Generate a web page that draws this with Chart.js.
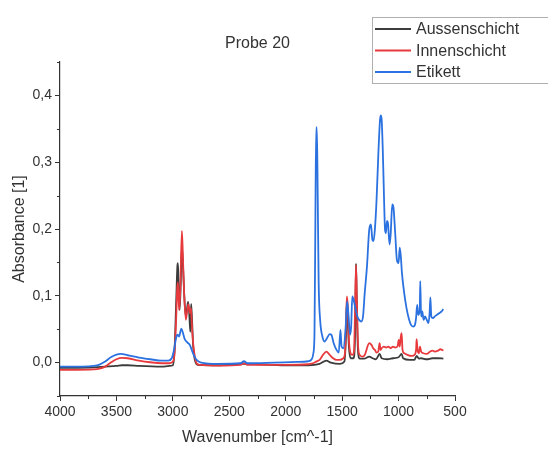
<!DOCTYPE html>
<html>
<head>
<meta charset="utf-8">
<script src="https://cdn.jsdelivr.net/npm/chart.js@4.4.0/dist/chart.umd.min.js"></script>
<style>
  html, body { margin: 0; padding: 0; background: #fff; }
</style>
</head>
<body>
<canvas id="spectrum" width="548" height="450"></canvas>
<script>
const titleText = 'Probe 20'
const xTicks = [4000, 3500, 3000, 2500, 2000, 1500, 1000, 500]
const xMinorTicks = [3750, 3250, 2750, 2250, 1750, 1250, 750]
const yTicks = [0, 0.1, 0.2, 0.3, 0.4]
const yMinorTicks = [-0.05, 0.05, 0.15, 0.25, 0.35, 0.45]

// Aussenschicht
const aussenWn = [4000, 3700, 3600, 3500, 3450, 3400, 3300, 3100, 3030, 3000, 2985, 2970, 2960, 2955, 2948, 2940, 2930, 2920, 2910, 2900, 2885, 2872, 2865, 2855, 2845, 2838, 2830, 2820, 2805, 2780, 2600, 2370, 2000, 1800, 1700, 1640, 1600, 1520, 1480, 1465, 1458, 1450, 1440, 1425, 1400, 1385, 1377, 1370, 1360, 1345, 1300, 1260, 1230, 1200, 1168, 1150, 1100, 1050, 1000, 973, 960, 900, 860, 840, 820, 800, 750, 700, 650, 603]
const aussenAbs = [-0.008, -0.007, -0.006, -0.005, -0.004, -0.004, -0.005, -0.006, -0.005, -0.004, 0.019, 0.094, 0.144, 0.149, 0.114, 0.079, 0.119, 0.174, 0.144, 0.104, 0.069, 0.084, 0.091, 0.074, 0.046, 0.088, 0.064, 0.024, 0.004, -0.0035, -0.004, -0.002, -0.004, -0.004, -0.002, 0.003, 0.0, -0.002, 0.0015, 0.044, 0.089, 0.064, 0.024, 0.0065, 0.0065, 0.044, 0.148, 0.09, 0.019, 0.006, 0.006, 0.009, 0.0065, 0.005, 0.013, 0.0065, 0.005, 0.0065, 0.008, 0.013, 0.0065, 0.004, 0.004, 0.010, 0.006, 0.0065, 0.005, 0.0065, 0.0065, 0.006]

// Innenschicht
const innenWn = [4000, 3700, 3650, 3600, 3550, 3500, 3450, 3400, 3300, 3200, 3100, 3030, 3000, 2985, 2970, 2962, 2955, 2945, 2935, 2920, 2912, 2900, 2885, 2872, 2862, 2850, 2840, 2835, 2825, 2810, 2790, 2760, 2600, 2400, 2370, 2340, 2000, 1800, 1760, 1730, 1700, 1670, 1640, 1610, 1580, 1550, 1520, 1490, 1475, 1465, 1458, 1450, 1440, 1425, 1410, 1395, 1385, 1377, 1370, 1360, 1345, 1320, 1300, 1260, 1240, 1225, 1210, 1195, 1180, 1168, 1160, 1150, 1130, 1110, 1090, 1070, 1050, 1030, 1010, 998, 990, 980, 973, 965, 950, 920, 890, 860, 845, 840, 832, 820, 810, 800, 780, 750, 720, 700, 680, 650, 630, 603]
const innenAbs = [-0.011, -0.010, -0.009, -0.006, 0.0, 0.005, 0.007, 0.0065, 0.003, 0.0005, -0.001, -0.001, 0.0015, 0.014, 0.069, 0.109, 0.12, 0.079, 0.104, 0.197, 0.164, 0.104, 0.064, 0.079, 0.087, 0.074, 0.0815, 0.069, 0.039, 0.014, -0.001, -0.0035, -0.0045, -0.0035, -0.001, -0.0035, -0.0035, -0.0025, -0.001, 0.0015, 0.004, 0.0115, 0.0165, 0.0115, 0.0065, 0.004, 0.004, 0.0065, 0.014, 0.064, 0.099, 0.084, 0.034, 0.014, 0.0115, 0.0165, 0.084, 0.146, 0.094, 0.029, 0.0115, 0.009, 0.0115, 0.029, 0.0265, 0.0215, 0.019, 0.015, 0.0165, 0.029, 0.019, 0.0215, 0.024, 0.0225, 0.024, 0.0215, 0.024, 0.0225, 0.024, 0.034, 0.024, 0.039, 0.044, 0.019, 0.014, 0.0115, 0.010, 0.0115, 0.019, 0.035, 0.019, 0.014, 0.024, 0.0165, 0.014, 0.013, 0.0165, 0.018, 0.0165, 0.018, 0.020, 0.018]

// Etikett
const etikettWn = [4000, 3800, 3700, 3650, 3600, 3550, 3500, 3460, 3400, 3300, 3200, 3100, 3040, 3010, 2990, 2975, 2960, 2945, 2925, 2910, 2895, 2870, 2850, 2835, 2815, 2790, 2750, 2600, 2400, 2370, 2340, 2100, 1900, 1800, 1770, 1755, 1745, 1738, 1730, 1724, 1716, 1708, 1695, 1675, 1655, 1635, 1610, 1595, 1575, 1550, 1530, 1515, 1505, 1490, 1470, 1456, 1445, 1430, 1420, 1410, 1395, 1380, 1365, 1350, 1330, 1315, 1300, 1280, 1260, 1245, 1232, 1222, 1210, 1195, 1180, 1165, 1158, 1150, 1140, 1130, 1120, 1112, 1103, 1094, 1080, 1070, 1056, 1045, 1030, 1015, 1000, 990, 980, 970, 950, 930, 910, 890, 870, 855, 845, 835, 825, 812, 808, 800, 790, 778, 765, 750, 735, 725, 718, 710, 695, 680, 660, 640, 620, 603]
const etikettAbs = [-0.006, -0.006, -0.005, -0.003, 0.0015, 0.008, 0.012, 0.013, 0.011, 0.0075, 0.005, 0.003, 0.003, 0.0065, 0.019, 0.034, 0.042, 0.039, 0.051, 0.044, 0.035, 0.030, 0.0265, 0.020, 0.0115, 0.004, 0.0, -0.002, -0.001, 0.002, -0.001, 0.0, 0.001, 0.002, 0.005, 0.014, 0.044, 0.19, 0.352, 0.352, 0.244, 0.119, 0.064, 0.039, 0.0315, 0.0365, 0.0425, 0.0415, 0.029, 0.019, 0.015, 0.049, 0.024, 0.0215, 0.049, 0.0915, 0.074, 0.0415, 0.054, 0.099, 0.0915, 0.079, 0.069, 0.064, 0.0615, 0.069, 0.104, 0.144, 0.199, 0.207, 0.184, 0.182, 0.199, 0.244, 0.309, 0.362, 0.370, 0.364, 0.319, 0.254, 0.199, 0.194, 0.212, 0.209, 0.177, 0.192, 0.237, 0.232, 0.194, 0.154, 0.149, 0.172, 0.159, 0.134, 0.104, 0.082, 0.0665, 0.0565, 0.054, 0.0565, 0.0665, 0.0865, 0.0715, 0.079, 0.122, 0.069, 0.0765, 0.064, 0.069, 0.064, 0.059, 0.074, 0.0975, 0.069, 0.0665, 0.069, 0.0715, 0.074, 0.0765, 0.080]

const axisColor = '#333333'
const textColor = '#333333'
const fontFamily = '"Liberation Sans", Arial, sans-serif'

function toPoints(wn, abs) {
    return wn.map((w, i) => ({ x: w, y: abs[i] }))
}

// order: higher numbers are painted first, so Etikett ends up on top
function series(label, wn, abs, color, order) {
    return {
        label: label,
        data: toPoints(wn, abs),
        borderColor: color,
        backgroundColor: color,
        borderWidth: 1.8,
        pointRadius: 0,
        cubicInterpolationMode: 'monotone',
        fill: false,
        order: order
    }
}

// minor ticks, title and the boxed legend are drawn by hand
const decorations = {
    id: 'decorations',
    afterDraw(chart) {
        const ctx = chart.ctx
        const xs = chart.scales.x
        const ys = chart.scales.y
        ctx.save()
        ctx.strokeStyle = axisColor
        ctx.lineWidth = 1
        ctx.beginPath()
        xMinorTicks.forEach(v => {
            const px = Math.round(xs.getPixelForValue(v)) + 0.5
            ctx.moveTo(px, ys.bottom)
            ctx.lineTo(px, ys.bottom + 3)
        })
        yMinorTicks.forEach(v => {
            const py = Math.round(ys.getPixelForValue(v)) + 0.5
            ctx.moveTo(xs.left, py)
            ctx.lineTo(xs.left - 3, py)
        })
        ctx.stroke()

        ctx.fillStyle = textColor
        ctx.font = '16px ' + fontFamily
        ctx.textAlign = 'center'
        ctx.textBaseline = 'middle'
        ctx.fillText(titleText, (xs.left + xs.right) / 2, 44)

        // legend box
        const boxX = 372.5, boxY = 17.5
        ctx.strokeStyle = '#b0b0b0'
        ctx.lineWidth = 1
        ctx.fillStyle = '#ffffff'
        ctx.fillRect(boxX, boxY, 200, 66)
        ctx.strokeRect(boxX, boxY, 200, 66)
        ctx.textAlign = 'left'
        chart.data.datasets.forEach((ds, i) => {
            const rowY = 29 + i * 21.5
            ctx.strokeStyle = ds.borderColor
            ctx.lineWidth = 2
            ctx.beginPath()
            ctx.moveTo(375, rowY)
            ctx.lineTo(411, rowY)
            ctx.stroke()
            ctx.fillStyle = textColor
            ctx.fillText(ds.label, 416, rowY + 1)
        })
        ctx.restore()
    }
}

new Chart(document.getElementById('spectrum').getContext('2d'), {
    type: 'line',
    data: {
        datasets: [
            series('Aussenschicht', aussenWn, aussenAbs, '#3c3c3c', 3),
            series('Innenschicht', innenWn, innenAbs, '#e83a3d', 2),
            series('Etikett', etikettWn, etikettAbs, '#2b72e0', 1)
        ]
    },
    options: {
        responsive: false,
        animation: false,
        layout: { padding: { left: 0, top: 62, right: 93, bottom: 0 } },
        plugins: {
            legend: { display: false },
            title: { display: false },
            tooltip: { enabled: false }
        },
        scales: {
            x: {
                type: 'linear',
                reverse: true,
                min: 500,
                max: 4000,
                afterBuildTicks: scale => { scale.ticks = xTicks.map(value => ({ value })) },
                afterFit: scale => { scale.height = 54 },
                border: { color: axisColor, width: 1.2 },
                grid: { drawOnChartArea: false, tickLength: 5, color: axisColor },
                ticks: {
                    color: textColor,
                    font: { family: fontFamily, size: 14 },
                    padding: 3,
                    maxRotation: 0,
                    callback: v => String(v)
                },
                title: {
                    display: true,
                    text: 'Wavenumber [cm^-1]',
                    color: textColor,
                    font: { family: fontFamily, size: 16 },
                    padding: { top: 0, bottom: 3 }
                }
            },
            y: {
                type: 'linear',
                min: -0.05,
                max: 0.45,
                afterBuildTicks: scale => { scale.ticks = yTicks.map(value => ({ value })) },
                afterFit: scale => { scale.width = 60 },
                border: { color: axisColor, width: 1.2 },
                grid: { drawOnChartArea: false, tickLength: 5, color: axisColor },
                ticks: {
                    color: textColor,
                    font: { family: fontFamily, size: 14 },
                    padding: 3,
                    callback: v => v.toFixed(1).replace('.', ',')
                },
                title: {
                    display: true,
                    text: 'Absorbance [1]',
                    color: textColor,
                    font: { family: fontFamily, size: 16 },
                    padding: { top: 10, bottom: 0 }
                }
            }
        }
    },
    plugins: [decorations]
})
</script>
</body>
</html>
